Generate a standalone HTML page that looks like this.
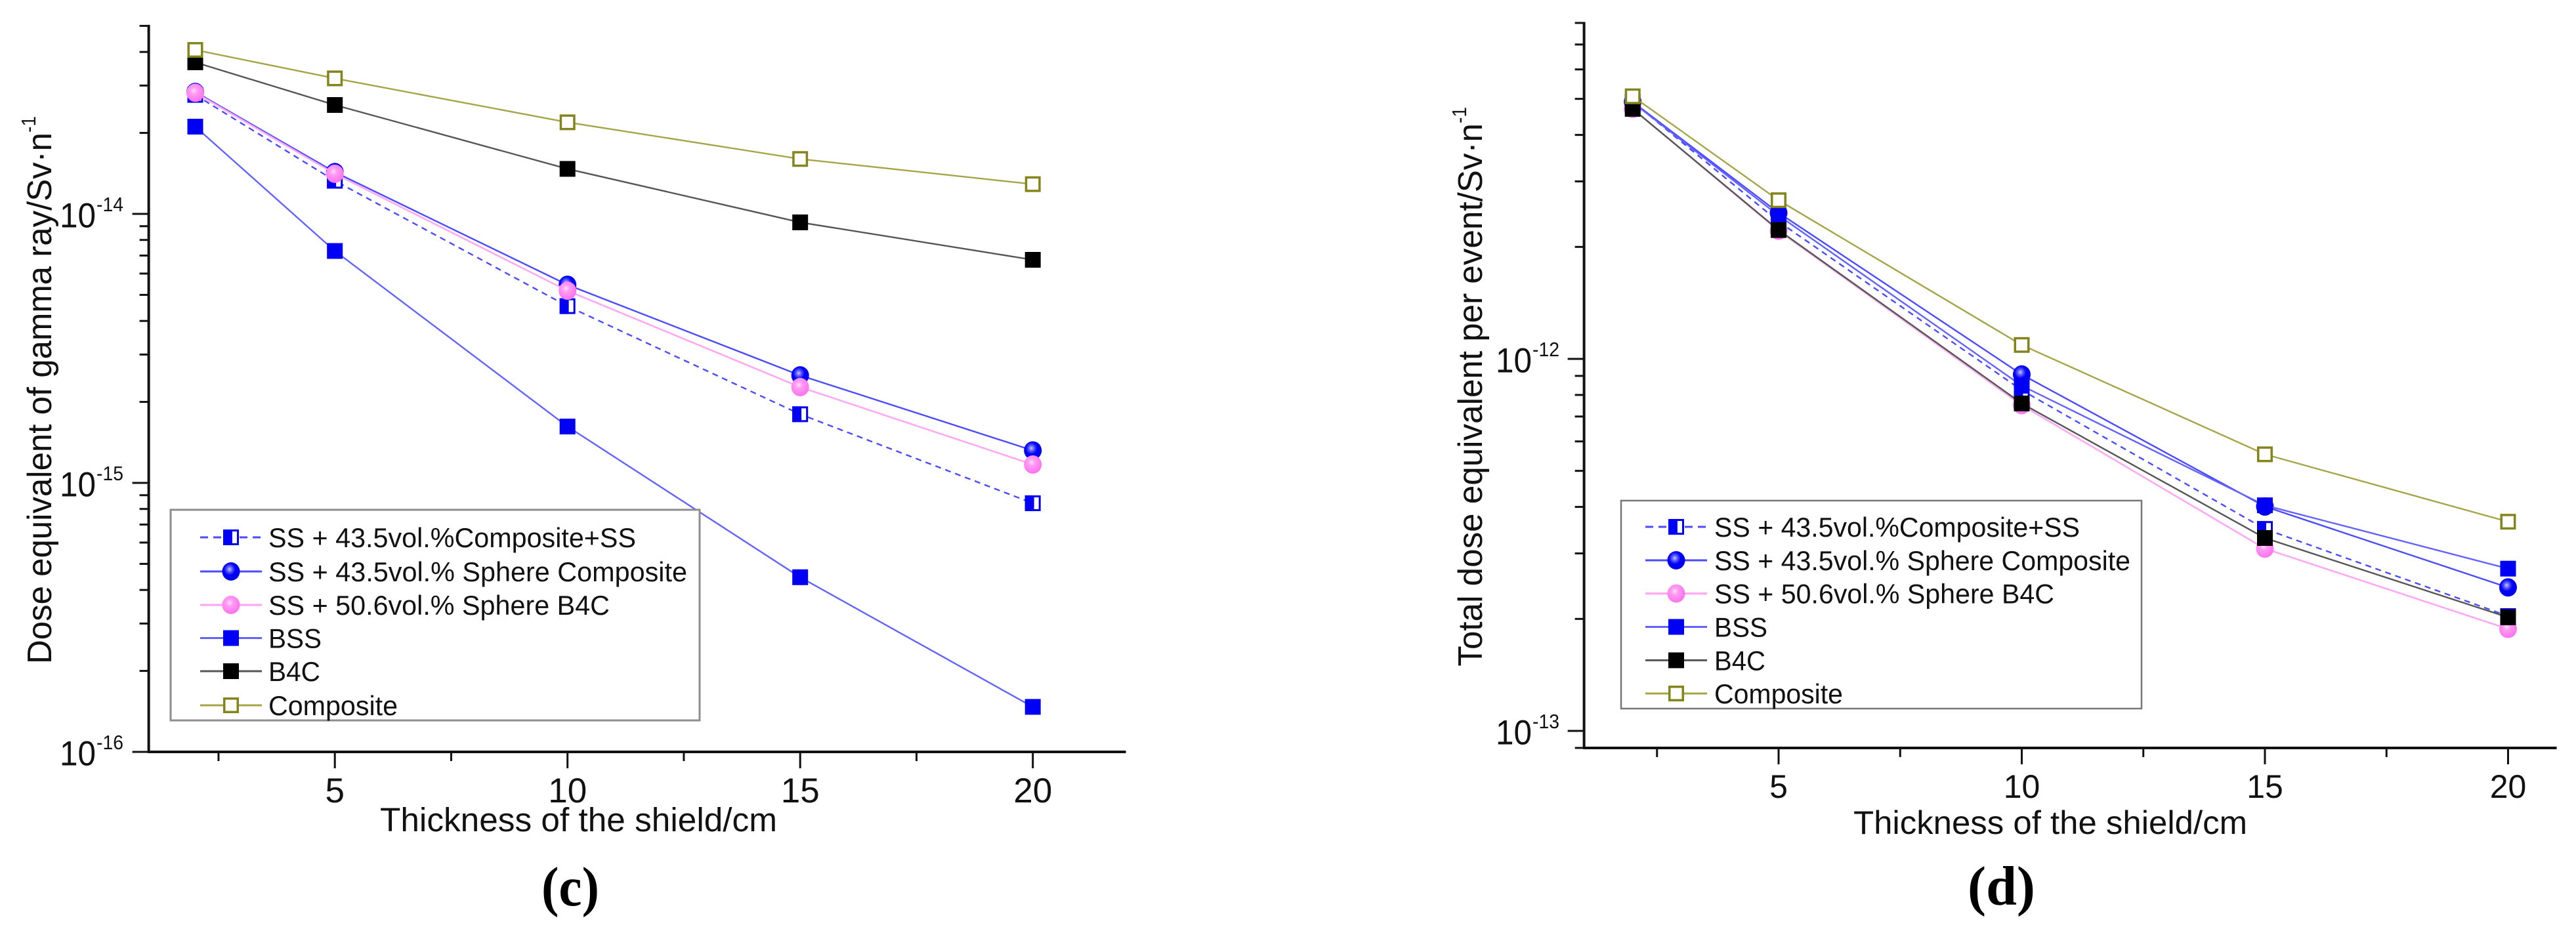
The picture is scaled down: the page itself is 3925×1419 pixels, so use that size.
<!DOCTYPE html>
<html lang="en">
<head>
<meta charset="utf-8">
<title>Dose equivalent charts</title>
<style>
html,body{margin:0;padding:0;background:#fff;width:3925px;height:1419px;overflow:hidden}
svg{display:block}
text{font-family:"Liberation Sans",sans-serif;fill:#111}
.cap{font-family:"Liberation Serif",serif;font-weight:bold;fill:#000}
</style>
</head>
<body>
<svg id="figure" xmlns="http://www.w3.org/2000/svg" width="3925" height="1419" viewBox="0 0 3925 1419">
<defs>
<radialGradient id="blueSphere" cx="0.42" cy="0.38" r="0.55">
<stop offset="0" stop-color="#c8c8ff"/><stop offset="0.28" stop-color="#5a5aff"/><stop offset="0.6" stop-color="#0000f5"/><stop offset="1" stop-color="#0000ee"/>
</radialGradient>
<radialGradient id="pinkSphere" cx="0.42" cy="0.38" r="0.55">
<stop offset="0" stop-color="#ffe0fb"/><stop offset="0.35" stop-color="#ff9cf2"/><stop offset="1" stop-color="#ff78ee"/>
</radialGradient>
</defs>
<rect x="0" y="0" width="3925" height="1419" fill="#fff"/>
<text class="cap" x="825" y="1380" font-size="85" textLength="88" lengthAdjust="spacingAndGlyphs">(c)</text>
<text class="cap" x="2998" y="1379" font-size="85" textLength="103" lengthAdjust="spacingAndGlyphs">(d)</text>
</svg>
<script>
// ---- shared data ----
const thicknessCm = [2, 5, 10, 15, 20];
const xMajorTicks = [5, 10, 15, 20];
const xMinorTicks = [2.5, 7.5, 12.5, 17.5];
const seriesNames = ["SS + 43.5vol.%Composite+SS", "SS + 43.5vol.% Sphere Composite", "SS + 50.6vol.% Sphere B4C", "BSS", "B4C", "Composite"];

// ---- chart (c): dose equivalent of gamma ray, Sv/n ----
const gammaHalfSquare = [2.77e-14, 1.328e-14, 4.54e-15, 1.80e-15, 8.4e-16];
const gammaSphereComposite = [2.84e-14, 1.43e-14, 5.45e-15, 2.51e-15, 1.32e-15];
const gammaSphereB4C = [2.82e-14, 1.41e-14, 5.18e-15, 2.27e-15, 1.17e-15];
const gammaBSS = [2.11e-14, 7.28e-15, 1.62e-15, 4.46e-16, 1.47e-16];
const gammaB4C = [3.66e-14, 2.54e-14, 1.47e-14, 9.3e-15, 6.75e-15];
const gammaComposite = [4.07e-14, 3.19e-14, 2.19e-14, 1.60e-14, 1.29e-14];
const gammaYTickExponents = [-14, -15, -16];

// ---- chart (d): total dose equivalent per event, Sv/n ----
const totalHalfSquare = [4.91e-12, 2.34e-12, 8.24e-13, 3.49e-13, 2.035e-13];
const totalSphereComposite = [4.91e-12, 2.47e-12, 9.08e-13, 4.01e-13, 2.43e-13];
const totalSphereB4C = [4.70e-12, 2.21e-12, 7.51e-13, 3.09e-13, 1.88e-13];
const totalBSS = [4.89e-12, 2.43e-12, 8.47e-13, 4.04e-13, 2.73e-13];
const totalB4C = [4.70e-12, 2.22e-12, 7.59e-13, 3.30e-13, 2.02e-13];
const totalComposite = [5.08e-12, 2.67e-12, 1.09e-12, 5.54e-13, 3.65e-13];
const totalYTickExponents = [-12, -13];

const SVG_NS = "http://www.w3.org/2000/svg";
const fig = document.getElementById("figure");

function node(parent, tag, props) {
  const el = document.createElementNS(SVG_NS, tag);
  for (const k in props) el.setAttribute(k, props[k]);
  parent.appendChild(el);
  return el;
}

const lineStyles = [
  {stroke: "#4a4aff", width: 2.4, dash: "9 7"},
  {stroke: "#4a4aff", width: 2.4, dash: ""},
  {stroke: "#ffa8f4", width: 2.6, dash: ""},
  {stroke: "#6262ff", width: 2.4, dash: ""},
  {stroke: "#555555", width: 2.4, dash: ""},
  {stroke: "#a5a548", width: 2.4, dash: ""}
];
const markerKinds = ["half", "sphere", "pink", "square", "black", "open"];

function drawMarker(parent, kind, cx, cy) {
  const s = 24;
  if (kind === "half") {
    node(parent, "rect", {x: cx - s/2 + 1.5, y: cy - s/2 + 1.5, width: s - 3, height: s - 3, fill: "#fff", stroke: "#0000f0", "stroke-width": 3});
    node(parent, "rect", {x: cx - s/2, y: cy - s/2, width: s * 0.58, height: s, fill: "#0000f5"});
  } else if (kind === "sphere") {
    node(parent, "ellipse", {cx: cx, cy: cy, rx: 13.5, ry: 14, fill: "url(#blueSphere)"});
  } else if (kind === "pink") {
    node(parent, "ellipse", {cx: cx, cy: cy, rx: 13.5, ry: 14, fill: "url(#pinkSphere)"});
  } else if (kind === "square") {
    node(parent, "rect", {x: cx - s/2, y: cy - s/2, width: s, height: s, fill: "#0000f5"});
  } else if (kind === "black") {
    node(parent, "rect", {x: cx - s/2, y: cy - s/2, width: s, height: s, fill: "#000"});
  } else {
    node(parent, "rect", {x: cx - s/2 + 1.75, y: cy - s/2 + 1.75, width: s - 3.5, height: s - 3.5, fill: "#fff", stroke: "#84841c", "stroke-width": 3.5});
  }
}

function drawChart(cfg) {
  const g = node(fig, "g", {});
  
  

  const sx = v => cfg.x0 + (v - cfg.xMin) * cfg.xScale;
  const sy = v => cfg.yRef + (cfg.yRefExp - Math.log10(v)) * cfg.decade;
  const xLeft = sx(cfg.xMin);
  const xRight = sx(cfg.xMax);
  const yBottom = sy(cfg.yMin);
  const yTop = sy(cfg.yMax);

  // series, first legend entry at the bottom of the stack
  cfg.series.forEach((vals, i) => {
    const sg = node(g, "g", {});
    
    
    const st = lineStyles[i];
    const pts = vals.map((v, j) => sx(thicknessCm[j]).toFixed(1) + "," + sy(v).toFixed(1)).join(" ");
    const pl = node(sg, "polyline", {points: pts, fill: "none", stroke: st.stroke, "stroke-width": st.width});
    if (st.dash) pl.setAttribute("stroke-dasharray", st.dash);
    
    
    vals.forEach((v, j) => {
      const mg = node(sg, "g", {});
      
      
      drawMarker(mg, markerKinds[i], sx(thicknessCm[j]), sy(v));
    });
  });

  // axes
  const yAxis = node(g, "line", {x1: xLeft, y1: yTop - 1.5, x2: xLeft, y2: yBottom + 1.5, stroke: "#111", "stroke-width": 4});
  
  
  const xAxis = node(g, "line", {x1: xLeft - 1.5, y1: yBottom, x2: xRight, y2: yBottom, stroke: "#111", "stroke-width": 4});
  
  

  // x ticks
  xMajorTicks.forEach(t => {
    const tk = node(g, "line", {x1: sx(t), y1: yBottom, x2: sx(t), y2: yBottom + 25, stroke: "#111", "stroke-width": 3});
    
    
    const lb = node(g, "text", {x: sx(t), y: cfg.xLabelY, "font-size": cfg.tickSize, "text-anchor": "middle"});
    lb.textContent = String(t);
    
    
  });
  xMinorTicks.forEach(t => {
    const tk = node(g, "line", {x1: sx(t), y1: yBottom, x2: sx(t), y2: yBottom + 14, stroke: "#111", "stroke-width": 3});
    
    
  });

  // y ticks
  for (let e = Math.floor(Math.log10(cfg.yMin) + 1e-9); e <= Math.floor(Math.log10(cfg.yMax) + 1e-9); e++) {
    for (let m = 2; m <= 9; m++) {
      const v = m * Math.pow(10, e);
      if (v < cfg.yMin * 0.999 || v > cfg.yMax * 1.001) continue;
      const tk = node(g, "line", {x1: xLeft - 14, y1: sy(v), x2: xLeft, y2: sy(v), stroke: "#111", "stroke-width": 3});
      
      
    }
  }
  cfg.yTicks.forEach(e => {
    const y = sy(Math.pow(10, e));
    const tk = node(g, "line", {x1: xLeft - 25, y1: y, x2: xLeft, y2: y, stroke: "#111", "stroke-width": 3});
    
    
    const base = node(g, "text", {x: cfg.yLabelX - 55, y: y + 20.5, "font-size": 53, textLength: 55, lengthAdjust: "spacingAndGlyphs"});
    base.textContent = "10";
    
    
    const sup = node(g, "text", {x: cfg.yLabelX + 1, y: y - 4, "font-size": 31, textLength: 41, lengthAdjust: "spacingAndGlyphs"});
    sup.textContent = String(e);
    
    
  });

  // axis titles
  const xt = node(g, "text", {x: cfg.xTitle.x, y: cfg.xTitle.y, "font-size": cfg.xTitle.size, textLength: cfg.xTitle.len, lengthAdjust: "spacingAndGlyphs"});
  xt.textContent = "Thickness of the shield/cm";
  
  

  const T = cfg.yTitle;
  const yt = node(g, "text", {x: T.x, y: T.y, "font-size": 52, textLength: T.len, lengthAdjust: "spacingAndGlyphs", transform: "rotate(-90 " + T.x + " " + T.y + ")"});
  yt.textContent = T.text;
  
  
  const supX = T.x - 24;
  const supY = T.y - T.len;
  const ys = node(g, "text", {x: supX, y: supY, "font-size": 31, textLength: 25, lengthAdjust: "spacingAndGlyphs", transform: "rotate(-90 " + supX + " " + supY + ")"});
  ys.textContent = "-1";
  
  

  // legend
  const L = cfg.legend;
  const lg = node(g, "g", {});
  
  
  const box = node(lg, "rect", {x: L.x, y: L.y, width: L.w, height: L.h, fill: "#fff", stroke: L.stroke, "stroke-width": L.sw});
  
  
  seriesNames.forEach((n, i) => {
    const row = node(lg, "g", {});
    
    
    const st = lineStyles[i];
    const y = L.rows[i];
    const ln = node(row, "line", {x1: L.lineX, y1: y, x2: L.lineX + 94, y2: y, stroke: st.stroke, "stroke-width": st.width + 0.6});
    if (st.dash) ln.setAttribute("stroke-dasharray", "12 8");
    drawMarker(row, markerKinds[i], L.lineX + 47, y);
    const tx = node(row, "text", {x: L.textX, y: y + 15, "font-size": 42, textLength: L.lens[i], lengthAdjust: "spacingAndGlyphs"});
    tx.textContent = n;
    
    
  });
}

drawChart({
  name: "chart-c-gamma-dose",
  series: [gammaHalfSquare, gammaSphereComposite, gammaSphereB4C, gammaBSS, gammaB4C, gammaComposite],
  yTicks: gammaYTickExponents,
  x0: 226.6, xMin: 1, xMax: 22, xScale: 70.9,
  yRef: 326, yRefExp: -14, decade: 410,
  yMin: 1e-16, yMax: 5e-14,
  tickSize: 53,
  xLabelY: 1223, yLabelX: 146,
  xTitle: {x: 579, y: 1267, size: 51, len: 605},
  yTitle: {x: 78, y: 1012, len: 810, text: "Dose equivalent of gamma ray/Sv·n"},
  legend: {x: 260, y: 777, w: 806, h: 321, stroke: "#8e8e8e", sw: 3, lineX: 305, textX: 409,
    rows: [819, 871, 922, 972.5, 1023, 1075], lens: [560, 638, 520, 81, 79, 197]}
});

drawChart({
  name: "chart-d-total-dose",
  series: [totalHalfSquare, totalSphereComposite, totalSphereB4C, totalBSS, totalB4C, totalComposite],
  yTicks: totalYTickExponents,
  x0: 2413.6, xMin: 1, xMax: 21, xScale: 74.1,
  yRef: 547, yRefExp: -12, decade: 567,
  yMin: 9e-14, yMax: 8e-12,
  tickSize: 50,
  xLabelY: 1216, yLabelX: 2334,
  xTitle: {x: 2824, y: 1271, size: 50, len: 600},
  yTitle: {x: 2258, y: 1015.6, len: 827.6, text: "Total dose equivalent per event/Sv·n"},
  legend: {x: 2470, y: 763, w: 793, h: 317, stroke: "#777", sw: 2.5, lineX: 2507, textX: 2612,
    rows: [803, 854, 904.6, 955.5, 1006.4, 1057], lens: [557, 634, 518, 81, 78, 196]}
});
</script>
</body>
</html>
